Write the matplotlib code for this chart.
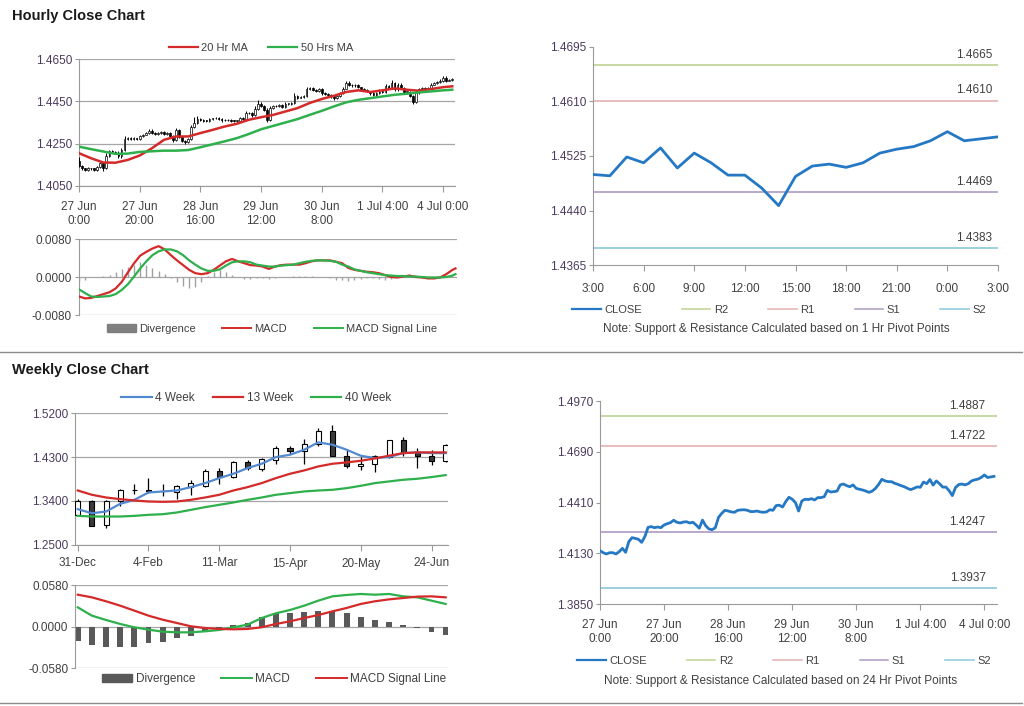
import numpy as np
import matplotlib
matplotlib.use("Agg")
from matplotlib import pyplot as plt
from matplotlib.lines import Line2D
from matplotlib.patches import Patch

plt.rcParams['font.family'] = ['Liberation Sans', 'DejaVu Sans']
plt.rcParams['axes.unicode_minus'] = False

W, H = 1024, 706

# ---------------- hourly data (27 Jun 0:00 .. 4 Jul 3:00) ----------------
hour_ticks = [0, 20, 40, 60, 80, 100, 120]
hour_labels = ['27 Jun\n0:00', '27 Jun\n20:00', '28 Jun\n16:00', '29 Jun\n12:00',
               '30 Jun\n8:00', '1 Jul 4:00', '4 Jul 0:00']

h_first_open = 1.4168
h_close = [
    1.4144, 1.4133, 1.4126, 1.4133, 1.4133, 1.4126, 1.4139, 1.4157, 1.4135, 1.4194,
    1.4216, 1.4212, 1.4207, 1.4190, 1.4222, 1.4273, 1.4277, 1.4271, 1.4275, 1.4271,
    1.4286, 1.4293, 1.4299, 1.4312, 1.4301, 1.4297, 1.4302, 1.4304, 1.4297, 1.4301,
    1.4286, 1.4268, 1.4313, 1.4282, 1.4264, 1.4260, 1.4271, 1.4328, 1.4350, 1.4367,
    1.4363, 1.4358, 1.4356, 1.4367, 1.4369, 1.4370, 1.4367, 1.4360, 1.4360, 1.4363,
    1.4358, 1.4356, 1.4358, 1.4370, 1.4367, 1.4393, 1.4395, 1.4385, 1.4415, 1.4439,
    1.4428, 1.4410, 1.4363, 1.4418, 1.4428, 1.4426, 1.4431, 1.4424, 1.4437, 1.4437,
    1.4442, 1.4477, 1.4468, 1.4470, 1.4473, 1.4507, 1.4512, 1.4503, 1.4497, 1.4507,
    1.4488, 1.4483, 1.4479, 1.4473, 1.4466, 1.4473, 1.4488, 1.4510, 1.4538, 1.4529,
    1.4525, 1.4525, 1.4516, 1.4510, 1.4503, 1.4497, 1.4488, 1.4481, 1.4488,
    1.4496, 1.4494, 1.4523, 1.4514, 1.4537, 1.4506, 1.4529, 1.4514, 1.4495, 1.4495,
    1.4475, 1.4448, 1.4493, 1.4509, 1.4512, 1.4507, 1.4514, 1.4529, 1.4535, 1.4539,
    1.4548, 1.4562, 1.4548, 1.4551, 1.4554]
# wick lengths in pips beyond the candle body
h_wick_up = [
    20, 4, 3, 5, 3, 4, 6, 8, 4, 10, 6, 5, 4, 6, 8, 15, 6, 4, 5, 4,
    6, 5, 4, 8, 5, 4, 5, 4, 6, 5, 4, 4, 12, 6, 4, 5, 6, 10, 25, 12,
    5, 4, 5, 6, 4, 5, 4, 4, 5, 4, 4, 5, 4, 8, 5, 10, 6, 5, 12, 15,
    6, 5, 8, 10, 6, 5, 6, 5, 8, 5, 6, 12, 5, 6, 5, 10, 8, 5, 4, 6,
    5, 4, 5, 4, 5, 6, 6, 8, 10, 6, 5, 8, 5, 4, 5, 4, 4, 5, 6, 10,
    6, 10, 6, 12, 5, 8, 6, 4, 5, 4, 6, 10, 6, 5, 5, 6, 8, 6, 5, 6,
    8, 10, 6, 5]
h_wick_dn = [
    6, 8, 5, 4, 6, 5, 4, 5, 12, 5, 6, 4, 5, 8, 6, 5, 4, 5, 4, 5,
    4, 5, 4, 5, 6, 4, 5, 4, 5, 4, 6, 8, 5, 6, 8, 10, 6, 5, 4, 5,
    6, 4, 5, 4, 5, 4, 5, 6, 4, 5, 4, 5, 4, 5, 6, 4, 5, 8, 5, 4,
    6, 8, 10, 5, 4, 5, 4, 6, 4, 5, 4, 5, 6, 4, 5, 4, 5, 6, 5, 4,
    6, 5, 4, 6, 8, 5, 4, 5, 4, 5, 6, 5, 4, 5, 6, 5, 6, 5, 4, 5,
    6, 4, 5, 4, 6, 5, 4, 6, 8, 5, 10, 8, 6, 4, 5, 4, 5, 4, 5, 4,
    5, 6, 4, 5]

ma_idx = [0, 4, 8, 12, 16, 20, 24, 28, 32, 36, 40, 44, 48, 52, 56, 60,
          64, 68, 72, 76, 80, 84, 88, 92, 96, 100, 104, 108, 112, 116, 120, 123]
ma20 = [1.4205, 1.4181, 1.4161, 1.4160, 1.4173, 1.4194, 1.4228, 1.4268, 1.4284, 1.4284,
        1.4300, 1.4315, 1.4331, 1.4344, 1.4363, 1.4375, 1.4386, 1.4402, 1.4418, 1.4442,
        1.4461, 1.4476, 1.4494, 1.4502, 1.4494, 1.4502, 1.4511, 1.4505, 1.4500, 1.4508,
        1.4517, 1.4521]
ma50 = [1.4236, 1.4224, 1.4213, 1.4202, 1.4203, 1.4211, 1.4214, 1.4217, 1.4217, 1.4220,
        1.4233, 1.4247, 1.4261, 1.4276, 1.4296, 1.4318, 1.4334, 1.4350, 1.4366, 1.4386,
        1.4405, 1.4426, 1.4445, 1.4457, 1.4465, 1.4473, 1.4481, 1.4486, 1.4492, 1.4497,
        1.4502, 1.4505]

macd_idx = list(range(0, 123, 2)) + [123]
h_macd = [-0.0041, -0.0045, -0.0044, -0.0040, -0.0036, -0.0032, -0.0024, -0.0010, 0.0010, 0.0029,
          0.0045, 0.0053, 0.0060, 0.0065, 0.0058, 0.0046, 0.0035, 0.0025, 0.0015, 0.0008,
          0.0006, 0.0008, 0.0015, 0.0024, 0.0033, 0.0038, 0.0033, 0.0029, 0.0025, 0.0024,
          0.0022, 0.0017, 0.0022, 0.0025, 0.0026, 0.0026, 0.0026, 0.0029, 0.0033, 0.0035,
          0.0035, 0.0035, 0.0032, 0.0029, 0.0019, 0.0015, 0.0013, 0.0011, 0.0010, 0.0008,
          0.0004, 0.0000, -0.0001, 0.0001, 0.0003, 0.0000, -0.0001, -0.0003, -0.0003, -0.0001,
          0.0006, 0.0015, 0.0018]
h_signal = [-0.0026, -0.0034, -0.0041, -0.0042, -0.0041, -0.0040, -0.0036, -0.0027, -0.0015, 0.0001,
            0.0018, 0.0033, 0.0046, 0.0054, 0.0058, 0.0058, 0.0054, 0.0046, 0.0035, 0.0026,
            0.0018, 0.0013, 0.0013, 0.0016, 0.0024, 0.0031, 0.0033, 0.0033, 0.0031, 0.0026,
            0.0024, 0.0022, 0.0022, 0.0024, 0.0025, 0.0026, 0.0029, 0.0032, 0.0034, 0.0035,
            0.0035, 0.0034, 0.0032, 0.0026, 0.0022, 0.0016, 0.0013, 0.0010, 0.0008, 0.0006,
            0.0004, 0.0003, 0.0002, 0.0002, 0.0001, 0.0001, 0.0000, -0.0001, -0.0001, -0.0001,
            0.0000, 0.0003, 0.0006]
div_idx = list(range(0, 123, 2))
h_div = [-0.0010, -0.0006, -0.0001, 0.0001, 0.0003, 0.0004, 0.0010, 0.0016, 0.0022, 0.0026,
         0.0031, 0.0025, 0.0018, 0.0013, 0.0006, -0.0003, -0.0010, -0.0018, -0.0024, -0.0020,
         -0.0010, 0.0003, 0.0011, 0.0015, 0.0011, 0.0004, -0.0001, -0.0004, -0.0004, -0.0003,
         -0.0003, -0.0004, -0.0002, 0.0001, 0.0001, 0.0002, 0.0003, 0.0003, 0.0003, 0.0001,
         0.0000, -0.0003, -0.0006, -0.0007, -0.0008, -0.0007, -0.0005, -0.0003, -0.0003, -0.0004,
         -0.0006, -0.0004, -0.0001, -0.0001, -0.0001, -0.0001, -0.0002, -0.0001, -0.0001, 0.0001,
         0.0003, 0.0004]

# last 24 hours (1 Hr pivots)
last24_labels = ['3:00', '6:00', '9:00', '12:00', '15:00', '18:00', '21:00', '0:00', '3:00']
last24_ylabels = ['1.4365', '1.4440', '1.4525', '1.4610', '1.4695']
hr_pivots = {'R2': 1.4665, 'R1': 1.4610, 'S1': 1.4469, 'S2': 1.4383}
day_pivots = {'R2': 1.4887, 'R1': 1.4722, 'S1': 1.4247, 'S2': 1.3937}
pivot_colors = {'R2': '#c3d69b', 'R1': '#e6b9b8', 'S1': '#b3a2c7', 'S2': '#93cddd'}

# ---------------- weekly data ----------------
wk_ticks = [0, 5, 10, 15, 20, 25]
wk_labels = ['31-Dec', '4-Feb', '11-Mar', '15-Apr', '20-May', '24-Jun']
wk_open = [1.3117, 1.3404, 1.2912, 1.3404, 1.3629, 1.3615, 1.3612, 1.3575, 1.3684, 1.3711,
           1.4005, 1.3889, 1.4189, 1.4059, 1.4244, 1.4483, 1.4414, 1.4572, 1.4824, 1.4312,
           1.4107, 1.4162, 1.4298, 1.4640, 1.4380, 1.4326, 1.4210]
wk_close = [1.3410, 1.2898, 1.3404, 1.3629, 1.3615, 1.3612, 1.3595, 1.3711, 1.3766, 1.4018,
            1.3889, 1.4189, 1.4073, 1.4257, 1.4483, 1.4414, 1.4572, 1.4824, 1.4312, 1.4107,
            1.4162, 1.4312, 1.4640, 1.4380, 1.4312, 1.4210, 1.4551]
wk_high = [1.3438, 1.3424, 1.3424, 1.3650, 1.3752, 1.3868, 1.3745, 1.3732, 1.3834, 1.4053,
           1.4073, 1.4223, 1.4244, 1.4278, 1.4517, 1.4531, 1.4667, 1.4893, 1.4961, 1.4449,
           1.4298, 1.4346, 1.4654, 1.4708, 1.4483, 1.4435, 1.4572]
wk_low = [1.3096, 1.2891, 1.2857, 1.3301, 1.3547, 1.3561, 1.3493, 1.3445, 1.3527, 1.3684,
          1.3752, 1.3868, 1.4025, 1.4005, 1.4162, 1.4367, 1.4162, 1.4517, 1.4312, 1.4073,
          1.4039, 1.3984, 1.4278, 1.4326, 1.4073, 1.4141, 1.4189]
ma4 = [1.3233, 1.3150, 1.3185, 1.3342, 1.3424, 1.3574, 1.3595, 1.3615, 1.3684, 1.3766,
       1.3868, 1.3957, 1.4073, 1.4162, 1.4298, 1.4346, 1.4449, 1.4599, 1.4551, 1.4449,
       1.4326, 1.4278, 1.4298, 1.4380, 1.4394, 1.4380, 1.4380]
ma13 = [1.3615, 1.3527, 1.3472, 1.3438, 1.3411, 1.3390, 1.3383, 1.3390, 1.3424, 1.3472,
        1.3527, 1.3615, 1.3684, 1.3766, 1.3868, 1.3957, 1.4025, 1.4107, 1.4162, 1.4189,
        1.4223, 1.4271, 1.4326, 1.4380, 1.4394, 1.4394, 1.4394]
ma40 = [1.3096, 1.3083, 1.3083, 1.3083, 1.3096, 1.3117, 1.3130, 1.3165, 1.3219, 1.3274,
        1.3322, 1.3370, 1.3424, 1.3472, 1.3527, 1.3561, 1.3595, 1.3615, 1.3629, 1.3663,
        1.3711, 1.3766, 1.3800, 1.3834, 1.3855, 1.3889, 1.3930]
wk_div = [-0.0195, -0.0250, -0.0280, -0.0288, -0.0288, -0.0230, -0.0218, -0.0162, -0.0130, -0.0070,
          -0.0030, 0.0023, 0.0046, 0.0130, 0.0186, 0.0186, 0.0210, 0.0223, 0.0223, 0.0186,
          0.0140, 0.0093, 0.0060, 0.0023, -0.0023, -0.0070, -0.0116]
wk_macd = [0.0269, 0.0153, 0.0093, 0.0037, -0.0009, -0.0042, -0.0070, -0.0079, -0.0079, -0.0065,
           -0.0046, -0.0009, 0.0028, 0.0120, 0.0186, 0.0232, 0.0292, 0.0362, 0.0422, 0.0441,
           0.0455, 0.0445, 0.0455, 0.0422, 0.0408, 0.0362, 0.0316]
wk_signal = [0.0445, 0.0408, 0.0353, 0.0292, 0.0223, 0.0153, 0.0097, 0.0051, 0.0005, -0.0019,
             -0.0032, -0.0037, -0.0032, -0.0009, 0.0037, 0.0074, 0.0120, 0.0162, 0.0213, 0.0260,
             0.0316, 0.0353, 0.0380, 0.0399, 0.0418, 0.0422, 0.0408]

# ---------------- style ----------------
RED = '#d42a2a'
GREEN = '#2eb04c'
BLUE = '#2478c4'
WBLUE = '#5389cf'
GRID = '#a6a6a6'
SPINE = '#9a9a9a'
PRICE_LBL = '#4b3b5e'
TXT = '#404040'

fig = plt.figure(figsize=(W / 100, H / 100), dpi=100)


def px_axes(l, t, r, b):
    return fig.add_axes([l / W, 1 - b / H, (r - l) / W, (b - t) / H])


def base_style(ax, ylabel_color=PRICE_LBL):
    for s in ['top', 'right']:
        ax.spines[s].set_visible(False)
    for s in ['left', 'bottom']:
        ax.spines[s].set_color(SPINE)
    ax.tick_params(colors=SPINE, labelsize=8.5, length=3, width=0.8)
    ax.tick_params(axis='y', labelcolor=ylabel_color, pad=2)
    ax.tick_params(axis='x', labelcolor=TXT, length=4, pad=7)
    ax.set_axisbelow(True)


def legend(ax, handles, labels, cx, cy, colsp, fs=8):
    ax.legend(handles, labels, loc='center', bbox_to_anchor=(cx / W, 1 - cy / H),
              bbox_transform=fig.transFigure, ncol=len(labels), frameon=False,
              fontsize=fs, handlelength=2.6, handletextpad=0.3, columnspacing=colsp,
              borderpad=0, labelcolor=TXT)


def candles(ax, x, o, hi, lo, c, width, dn_color, lw_wick, lw_edge):
    o, hi, lo, c = map(np.asarray, (o, hi, lo, c))
    ax.vlines(x, lo, hi, color='black', lw=lw_wick, zorder=3)
    body = np.maximum(np.abs(c - o), (ax.get_ylim()[1] - ax.get_ylim()[0]) * 0.006)
    colors = np.where(c >= o, 'white', dn_color)
    ax.bar(x, body, bottom=np.minimum(o, c), width=width, color=colors,
           edgecolor='black', linewidth=lw_edge, zorder=4)


def pivot_lines(ax, pivots, xfrac):
    for name, val in pivots.items():
        ax.axhline(val, color=pivot_colors[name], lw=1.3, zorder=1)
        ax.annotate(f'{val:.4f}', xy=(xfrac, val), xycoords=('axes fraction', 'data'),
                    xytext=(0, 3), textcoords='offset points', ha='right', va='bottom',
                    fontsize=8.5, color=TXT)


def pivot_legend(ax, cx, cy):
    handles = [Line2D([], [], color=BLUE, lw=1.6)] + \
              [Line2D([], [], color=pivot_colors[k], lw=1.2) for k in ['R2', 'R1', 'S1', 'S2']]
    legend(ax, handles, ['CLOSE', 'R2', 'R1', 'S1', 'S2'], cx, cy, 3.6)


# titles and separators
fig.text(12 / W, 1 - 16 / H, 'Hourly Close Chart', fontsize=10.5, fontweight='bold',
         va='center', color='#1a1a1a')
fig.text(12 / W, 1 - 370 / H, 'Weekly Close Chart', fontsize=10.5, fontweight='bold',
         va='center', color='#1a1a1a')
for yy in [352, 703]:
    fig.add_artist(Line2D([0, 1022 / W], [1 - yy / H] * 2, color='#8c8c8c', lw=1.0))

# ---- hourly candles ----
hx = np.arange(len(h_close))
h_open = [h_first_open] + h_close[:-1]
h_hi = np.maximum(h_open, h_close) + np.array(h_wick_up) * 1e-4
h_lo = np.minimum(h_open, h_close) - np.array(h_wick_dn) * 1e-4

ax1 = px_axes(79, 59, 455, 186)
base_style(ax1)
ax1.set_xlim(0, 123.9)
ax1.set_ylim(1.4050, 1.4650)
candles(ax1, hx, h_open, h_hi, h_lo, h_close, 0.55, 'black', 0.7, 0.5)
ax1.plot(ma_idx, ma20, color=RED, lw=1.8, zorder=5)
ax1.plot(ma_idx, ma50, color=GREEN, lw=1.8, zorder=5)
ax1.set_yticks([1.4050, 1.4250, 1.4450, 1.4650])
ax1.yaxis.set_major_formatter('{x:.4f}')
ax1.grid(axis='y', color=GRID, lw=0.9)
ax1.set_xticks(hour_ticks, hour_labels)
legend(ax1, [Line2D([], [], color=RED, lw=1.6), Line2D([], [], color=GREEN, lw=1.6)],
       ['20 Hr MA', '50 Hrs MA'], 261, 47.7, 1.8)

# ---- hourly MACD ----
ax2 = px_axes(79, 239, 457, 315)
base_style(ax2, TXT)
ax2.spines['bottom'].set_visible(False)
ax2.set_xlim(0, 123.5)
ax2.set_ylim(-0.008, 0.008)
ax2.vlines(div_idx, 0, h_div, color='#a0a0a0', lw=1.0, zorder=2)
ax2.plot(macd_idx, h_macd, color=RED, lw=1.6, zorder=3)
ax2.plot(macd_idx, h_signal, color=GREEN, lw=1.6, zorder=3)
ax2.set_yticks([-0.008, 0.0, 0.008])
ax2.yaxis.set_major_formatter('{x:.4f}')
ax2.grid(axis='y', color=GRID, lw=0.9)
ax2.set_xticks([])
legend(ax2, [Patch(color='#7f7f7f'), Line2D([], [], color=RED, lw=1.4),
             Line2D([], [], color=GREEN, lw=1.4)],
       ['Divergence', 'MACD', 'MACD Signal Line'], 272, 329, 2.4)

# ---- last 24 hours ----
ax3 = px_axes(593, 46.7, 998, 265.3)
base_style(ax3)
ax3.set_xlim(0, 24)
ax3.set_ylim(1.4356, 1.4693)
pivot_lines(ax3, hr_pivots, 0.985)
ax3.plot(np.arange(25), h_close[-25:], color=BLUE, lw=2.0, zorder=3)
ax3.set_yticks(np.linspace(1.4356, 1.4693, 5), last24_ylabels)
ax3.set_xticks(range(0, 25, 3), last24_labels)
ax3.tick_params(axis='x', pad=9)
pivot_legend(ax3, 779, 310)
fig.text(776 / W, 1 - 329 / H, 'Note: Support & Resistance Calculated based on 1 Hr Pivot Points',
         ha='center', va='center', fontsize=8.5, color=TXT)

# ---- weekly candles ----
wx = np.arange(len(wk_close))
ax4 = px_axes(75.2, 413, 448.2, 545)
base_style(ax4)
ax4.set_xlim(-0.18, 26.18)
ax4.set_ylim(1.25, 1.52)
candles(ax4, wx, wk_open, wk_high, wk_low, wk_close, 0.36, '#3a3a3a', 0.9, 0.8)
ax4.plot(wx, ma4, color=WBLUE, lw=1.6, zorder=5)
ax4.plot(wx, ma13, color=RED, lw=1.6, zorder=5)
ax4.plot(wx, ma40, color=GREEN, lw=1.6, zorder=5)
ax4.set_yticks([1.25, 1.34, 1.43, 1.52])
ax4.yaxis.set_major_formatter('{x:.4f}')
ax4.grid(axis='y', color=GRID, lw=0.9)
ax4.set_xticks(wk_ticks, wk_labels)
ax4.tick_params(axis='x', pad=5)
legend(ax4, [Line2D([], [], color=WBLUE, lw=1.6), Line2D([], [], color=RED, lw=1.6),
             Line2D([], [], color=GREEN, lw=1.6)],
       ['4 Week', '13 Week', '40 Week'], 256, 398, 1.5, fs=8.5)

# ---- weekly MACD ----
ax5 = px_axes(75.2, 585, 448.2, 668.3)
base_style(ax5, TXT)
ax5.spines['bottom'].set_visible(False)
ax5.set_xlim(-0.18, 26.18)
ax5.set_ylim(-0.058, 0.058)
ax5.bar(wx, wk_div, width=0.42, color='#595959', zorder=2)
ax5.plot(wx, wk_macd, color=GREEN, lw=1.6, zorder=3)
ax5.plot(wx, wk_signal, color=RED, lw=1.6, zorder=3)
ax5.set_yticks([-0.058, 0.0, 0.058])
ax5.yaxis.set_major_formatter('{x:.4f}')
ax5.grid(axis='y', color=GRID, lw=0.9)
ax5.set_xticks([])
legend(ax5, [Patch(color='#595959'), Line2D([], [], color=GREEN, lw=1.4),
             Line2D([], [], color=RED, lw=1.4)],
       ['Divergence', 'MACD', 'MACD Signal Line'], 274, 679, 2.2, fs=8.5)

# ---- hourly close, 24 Hr pivots ----
ax6 = px_axes(600, 401, 996.7, 604)
base_style(ax6)
ax6.set_xlim(0, 123.85)
ax6.set_ylim(1.3850, 1.4970)
pivot_lines(ax6, day_pivots, 0.972)
ax6.plot(hx, h_close, color=BLUE, lw=2.0, zorder=3)
ax6.set_yticks([1.3850, 1.4130, 1.4410, 1.4690, 1.4970])
ax6.yaxis.set_major_formatter('{x:.4f}')
ax6.set_xticks(hour_ticks, hour_labels)
pivot_legend(ax6, 784, 661)
fig.text(781 / W, 1 - 681 / H, 'Note: Support & Resistance Calculated based on 24 Hr Pivot Points',
         ha='center', va='center', fontsize=8.5, color=TXT)

fig.savefig('out.png', dpi=100)
